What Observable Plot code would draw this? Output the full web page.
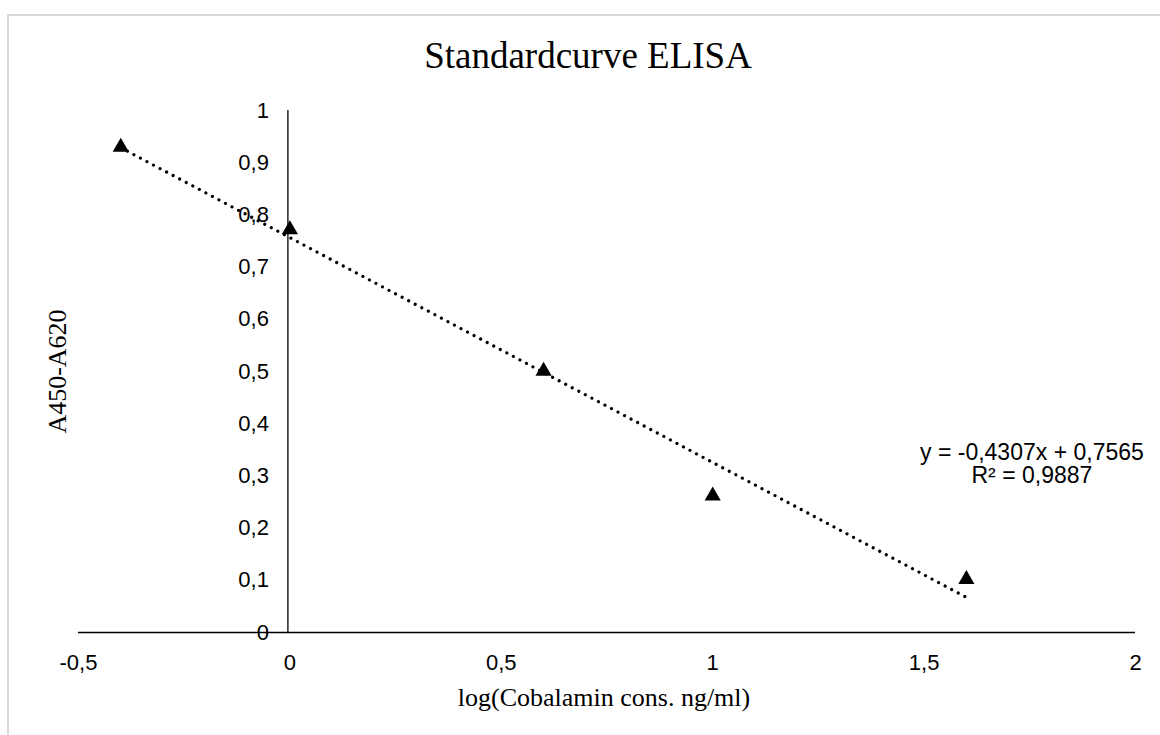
<!DOCTYPE html>
<html>
<head>
<meta charset="utf-8">
<script src="https://cdn.jsdelivr.net/npm/d3@7"></script>
<script src="https://cdn.jsdelivr.net/npm/@observablehq/plot@0.6"></script>
<style>
  html, body { margin: 0; padding: 0; background: #fff; overflow: hidden; }
  #wrap { position: relative; width: 1160px; height: 735px; }
  #border { position: absolute; left: 7px; top: 14px; width: 1400px; height: 1000px;
            border-left: 2px solid #d9d9d9; border-top: 2px solid #d9d9d9; }
  #chart { position: absolute; left: 0; top: 0; }
</style>
</head>
<body>
<div id="wrap"><div id="border"></div><div id="chart"></div></div>
<script>
// Data
const logConc = [-0.4, 0, 0.6, 1, 1.6];
const absorbance = [0.93, 0.772, 0.501, 0.262, 0.102];

// Trendline as reported (Excel linear fit)
const slope = -0.4307;
const intercept = 0.7565;
const rSquared = "0,9887";
const equationText = "y = -0,4307x + 0,7565\nR² = " + rSquared;

// Ticks
const xTicks = [-0.5, 0, 0.5, 1, 1.5, 2];
const xTickLabels = ["-0,5", "0", "0,5", "1", "1,5", "2"];
const yTicks = [0, 0.1, 0.2, 0.3, 0.4, 0.5, 0.6, 0.7, 0.8, 0.9, 1];
const yTickLabels = ["0", "0,1", "0,2", "0,3", "0,4", "0,5", "0,6", "0,7", "0,8", "0,9", "1"];

const titleText = "Standardcurve ELISA";
const xLabel = "log(Cobalamin cons. ng/ml)";
const yLabel = "A450-A620";

const points = logConc.map((x, i) => ({x, y: absorbance[i]}));
const xExt = d3.extent(logConc);
const fit = xExt.map(x => ({x, y: slope * x + intercept}));
const xt = xTicks.map((v, i) => ({v, label: xTickLabels[i]}));
const yt = yTicks.map((v, i) => ({v, label: yTickLabels[i]}));

const sans = "'Liberation Sans', Arial, sans-serif";
const serif = "'Liberation Serif', 'Times New Roman', serif";

const chart = Plot.plot({
  width: 1160,
  height: 735,
  marginLeft: 78,
  marginRight: 25,
  marginTop: 110,
  marginBottom: 103,
  x: {domain: [-0.5, 2], axis: null},
  y: {domain: [0, 1], axis: null},
  style: {background: "transparent", fontFamily: sans},
  marks: [
    // axis lines
    Plot.ruleY([0], {x1: -0.5, x2: 2, stroke: "#000", strokeWidth: 1.3}),
    Plot.ruleX([0], {y1: 0, y2: 1, stroke: "#000", strokeWidth: 1.3, dx: -2}),
    // tick labels
    Plot.text(yt, {x: 0, y: "v", text: "label", textAnchor: "end", dx: -21, fontSize: 22, fill: "#000", fontFamily: sans}),
    Plot.text(xt, {x: "v", y: 0, text: "label", textAnchor: "middle", dy: 30, fontSize: 22, fill: "#000", fontFamily: sans}),
    // trendline
    Plot.line(fit, {x: "x", y: "y", stroke: "#000", strokeWidth: 3.2, strokeDasharray: "0.01 7.4", strokeLinecap: "round"}),
    // points
    Plot.dot(points, {x: "x", y: "y", symbol: "triangle", r: 6, fill: "#000", stroke: "none"}),
    // equation
    Plot.text([equationText], {x: 1.755, y: 0.323, text: d => d, textAnchor: "middle", lineHeight: 1.02, fontSize: 23, fill: "#000", fontFamily: sans}),
    // title and axis labels
    Plot.text([titleText], {frameAnchor: "top", dx: -19, dy: -54, text: d => d, textAnchor: "middle", lineAnchor: "middle", fontSize: 37, fill: "#000", fontFamily: serif}),
    Plot.text([xLabel], {frameAnchor: "bottom", dx: -3, dy: 65, text: d => d, textAnchor: "middle", lineAnchor: "middle", fontSize: 26, fill: "#000", fontFamily: serif}),
    Plot.text([yLabel], {frameAnchor: "left", dx: -21, text: d => d, rotate: -90, textAnchor: "middle", lineAnchor: "middle", fontSize: 26, fill: "#000", fontFamily: serif})
  ]
});
document.getElementById("chart").appendChild(chart);
</script>
</body>
</html>
